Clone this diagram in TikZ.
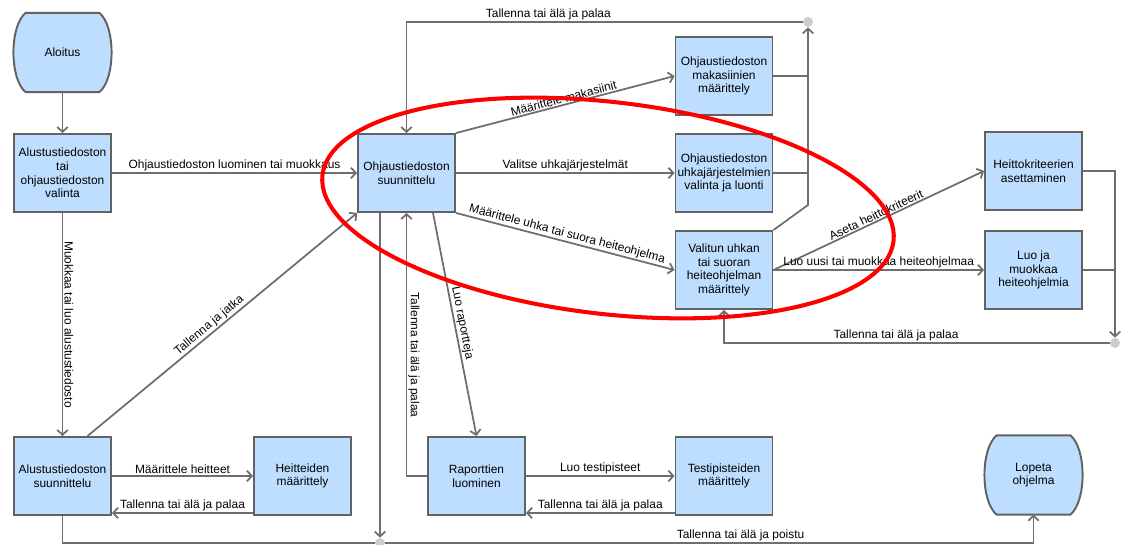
\documentclass[tikz,border=0pt]{standalone}
\usepackage{fontspec}
\setmainfont{Liberation Sans}
\usetikzlibrary{arrows.meta,calc,backgrounds}
\definecolor{laatikko}{RGB}{190,222,255}
\definecolor{reuna}{RGB}{98,98,98}
\definecolor{viiva}{RGB}{110,110,110}
\definecolor{piste}{RGB}{205,205,205}
\newcommand{\paatemuoto}[1]{\begin{scope}[on background layer]
	\draw[reuna,line width=1.1pt,fill=laatikko] ($(#1.north west)+(12,0)$) -- ($(#1.north east)+(-12,0)$) .. controls ($(#1.north east)+(4.3,13)$) and ($(#1.south east)+(4.3,-13)$) .. ($(#1.south east)+(-12,0)$) -- ($(#1.south west)+(12,0)$) .. controls ($(#1.south west)+(-4.3,-13)$) and ($(#1.north west)+(-4.3,13)$) .. cycle;
	\end{scope}}
\begin{document}
\begin{tikzpicture}[x=0.02cm,y=-0.02cm,font=\fontsize{6.8}{7.7}\selectfont,
	vaihe/.style={draw=reuna,line width=1.1pt,fill=laatikko,minimum width=1.94cm,minimum height=1.56cm,align=center,inner sep=1pt},
	paate/.style={minimum width=1.94cm,minimum height=1.57cm,align=center,inner sep=1pt},
	liitos/.style={circle,fill=piste,inner sep=0pt,minimum size=0.2cm},
	yhteys/.style={draw=viiva,line width=1pt},
	nuoli/.style={yhteys,-{Straight Barb[length=2.8pt,width=6pt]}},
	selite/.style={inner sep=0.6pt}]
	\useasboundingbox (0,0) rectangle (1121,544);
	\node[paate] (aloitus) at (62.5,52.5) {Aloitus};
	\paatemuoto{aloitus}
	\node[vaihe] (valinta) at (62.5,173) {Alustustiedoston\\tai\\ohjaustiedoston\\valinta};
	\node[vaihe] (suunnittelu) at (406.5,173) {Ohjaustiedoston\\suunnittelu};
	\node[vaihe] (makasiinit) at (724,76) {Ohjaustiedoston\\makasiinien\\määrittely};
	\node[vaihe] (uhkat) at (724,173) {Ohjaustiedoston\\uhkajärjestelmien\\valinta ja luonti};
	\node[vaihe] (valitun) at (724,270) {Valitun uhkan\\tai suoran\\heiteohjelman\\määrittely};
	\node[vaihe] (kriteerit) at (1033.5,171) {Heittokriteerien\\asettaminen};
	\node[vaihe] (heiteohj) at (1033.5,270) {Luo ja\\muokkaa\\heiteohjelmia};
	\node[vaihe] (alustus) at (62.5,476) {Alustustiedoston\\suunnittelu};
	\node[vaihe] (heitteet) at (302.5,476) {Heitteiden\\määrittely};
	\node[vaihe] (raportit) at (476.5,476) {Raporttien\\luominen};
	\node[vaihe] (testipisteet) at (724,476) {Testipisteiden\\määrittely};
	\node[paate] (lopeta) at (1033.5,475) {Lopeta\\ohjelma};
	\paatemuoto{lopeta}
	\node[liitos] (ylapiste) at (808,22) {};
	\node[liitos] (oikeapiste) at (1115,343) {};
	\node[liitos] (alapiste) at (380,543) {};
	\coordinate (mutka) at (808,205);
	\draw[nuoli] (aloitus.south) -- (valinta.north);
	\draw[nuoli] (valinta.east) -- node[above,selite] {Ohjaustiedoston luominen tai muokkaus} (suunnittelu.west);
	\draw[nuoli] (valinta.south) -- node[selite,rotate=-90,anchor=south] {Muokkaa tai luo alustustiedosto} (alustus.north);
	\draw[nuoli] ([xshift=0.5cm]alustus.north) -- node[pos=0.47,sloped,above,selite] {Tallenna ja jatka} (suunnittelu.south west);
	\draw[nuoli] (alustus.east) -- node[above,selite] {Määrittele heitteet} (heitteet.west);
	\draw[nuoli] ([yshift=0.06cm]heitteet.south west) -- node[above,selite] {Tallenna tai älä ja palaa} ([yshift=0.06cm]alustus.south east);
	\draw[nuoli] (alustus.south) |- (alapiste) -| node[pos=0.274,above,selite] {Tallenna tai älä ja poistu} (lopeta.south);
	\draw[nuoli] (suunnittelu.south -| alapiste) -- (alapiste);
	\draw[nuoli] (raportit.west) -| node[pos=0.73,selite,rotate=-90,anchor=south] {Tallenna tai älä ja palaa} (suunnittelu.south);
	\draw[nuoli] ([xshift=0.53cm]suunnittelu.south) -- node[sloped,above,selite] {Luo raportteja} (raportit.north);
	\draw[nuoli] (raportit.east) -- node[above,selite] {Luo testipisteet} (testipisteet.west);
	\draw[nuoli] ([yshift=0.06cm]testipisteet.south west) -- node[above,selite] {Tallenna tai älä ja palaa} ([yshift=0.06cm]raportit.south east);
	\draw[nuoli] (suunnittelu.north east) -- node[sloped,above,selite] {Määrittele makasiinit} (makasiinit.west);
	\draw[nuoli] (suunnittelu.east) -- node[above,selite] {Valitse uhkajärjestelmät} (uhkat.west);
	\draw[nuoli] (suunnittelu.south east) -- node[sloped,above,selite] {Määrittele uhka tai suora heiteohjelma} (valitun.west);
	\draw[yhteys] (makasiinit.east) -- (makasiinit.east -| ylapiste);
	\draw[yhteys] (uhkat.east) -- (uhkat.east -| ylapiste);
	\draw[nuoli] (valitun.north east) -- (mutka) -- (ylapiste);
	\draw[nuoli] (ylapiste) -| node[pos=0.321,above,selite] {Tallenna tai älä ja palaa} (suunnittelu.north);
	\draw[nuoli] (valitun.east) -- node[sloped,above,selite] {Aseta heittokriteerit} (kriteerit.west);
	\draw[nuoli] (valitun.east) -- node[above,selite] {Luo uusi tai muokkaa heiteohjelmaa} (heiteohj.west);
	\draw[nuoli] (kriteerit.east) -| (oikeapiste);
	\draw[yhteys] (heiteohj.east) -- (heiteohj.east -| oikeapiste);
	\draw[nuoli] (oikeapiste) -| node[pos=0.277,above,selite] {Tallenna tai älä ja palaa} (valitun.south);
	\draw[red,line width=2.3pt,rotate around={-6.6:(608,208)}] (608,208) ellipse [x radius=5.75cm,y radius=2.12cm];
\end{tikzpicture}
\end{document}
